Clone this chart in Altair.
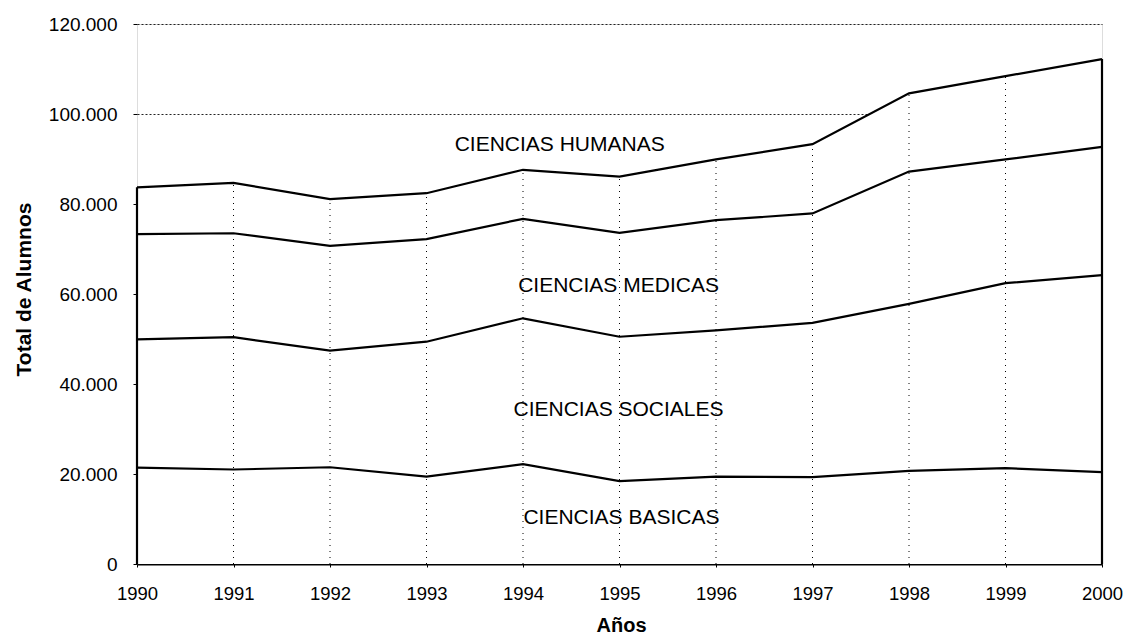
import altair as alt
import pandas as pd

years = [1990, 1991, 1992, 1993, 1994, 1995, 1996, 1997, 1998, 1999, 2000]
series = ["CIENCIAS BASICAS", "CIENCIAS SOCIALES", "CIENCIAS MEDICAS", "CIENCIAS HUMANAS"]
basicas = [21400, 21000, 21500, 19400, 22200, 18400, 19400, 19300, 20700, 21300, 20400]
sociales = [28500, 29400, 25900, 30000, 32400, 32100, 32500, 34300, 37100, 41100, 43800]
medicas = [23400, 23100, 23300, 22800, 22100, 23100, 24500, 24300, 29400, 27500, 28500]
humanas = [10400, 11200, 10400, 10200, 10900, 12500, 13500, 15400, 17400, 18500, 19500]

label_text = ["CIENCIAS HUMANAS", "CIENCIAS MEDICAS", "CIENCIAS SOCIALES", "CIENCIAS BASICAS"]
label_x = [1994.38, 1994.99, 1994.99, 1995.02]
label_y = [93100, 61800, 34200, 10200]

y_ticks = [0, 20000, 40000, 60000, 80000, 100000, 120000]

rows = []
for order, (name, vals) in enumerate(zip(series, [basicas, sociales, medicas, humanas])):
    for yr, v in zip(years, vals):
        rows.append({"year": yr, "serie": name, "value": v, "ord": order})
df = pd.DataFrame(rows)
labels_df = pd.DataFrame({"text": label_text, "x": label_x, "y": label_y})

x_scale = alt.Scale(domain=[1990, 2000], nice=False, zero=False)
y_scale = alt.Scale(domain=[0, 120000], nice=False)

x_axis = alt.Axis(
    values=years, format="d", title="Años", grid=False,
    domain=True, domainColor="black", domainWidth=2,
    tickSize=3, tickColor="black", labelPadding=17,
    labelFlush=False, labelOverlap=False, labelBound=False,
    labelFont="Liberation Sans", labelFontSize=18.5, labelColor="black",
    titleFont="Liberation Sans", titleFontSize=20, titleFontWeight="bold",
    titleColor="black", titleX=484, titleY=61, titleBaseline="middle",
)
y_axis = alt.Axis(
    values=y_ticks, title="Total de Alumnos", grid=True,
    gridColor="#222", gridDash=[2, 2], gridWidth=1,
    domain=False, tickSize=4, tickColor="black", labelPadding=16,
    labelExpr="replace(format(datum.value, ','), /,/g, '.')",
    labelFont="Liberation Sans", labelFontSize=19, labelColor="black",
    titleFont="Liberation Sans", titleFontSize=21, titleFontWeight="bold",
    titleColor="black", titleX=-113, titleY=265, titleBaseline="middle",
    titleAngle=270,
)

base = alt.Chart(df)

totals = base.transform_aggregate(
    total="sum(value)", groupby=["year"]
).transform_calculate(base0="0")

area = totals.mark_area(color="white", opacity=1).encode(
    x=alt.X("year:Q", scale=x_scale, axis=x_axis),
    y=alt.Y("total:Q", scale=y_scale, axis=y_axis),
)

inner_rules = totals.transform_filter(
    "datum.year > 1990 && datum.year < 2000"
).mark_rule(color="black", strokeWidth=1, strokeDash=[1, 5]).encode(
    x="year:Q", y="base0:Q", y2="total:Q"
)

edge_rules = totals.transform_filter(
    "datum.year == 1990 || datum.year == 2000"
).mark_rule(color="black", strokeWidth=2.2).encode(
    x="year:Q", y="base0:Q", y2="total:Q"
)

lines = base.mark_line(color="black", strokeWidth=2.2).encode(
    x="year:Q",
    y=alt.Y("value:Q", stack="zero"),
    detail="serie:N",
    order="ord:Q",
)

texts = alt.Chart(labels_df).mark_text(
    font="Liberation Sans", fontSize=21, color="black", align="center", baseline="middle"
).encode(x="x:Q", y="y:Q", text="text:N")

chart = alt.layer(area, inner_rules, edge_rules, lines, texts).properties(
    width=965, height=540,
    padding={"left": 129, "top": 16, "right": 23, "bottom": 71},
    autosize=alt.AutoSizeParams(type="none"),
).configure_view(
    stroke="#222", strokeDash=[1, 1], strokeWidth=1
).configure(background="white")

chart.save("out.html", embed_options={"renderer": "svg", "actions": False})
